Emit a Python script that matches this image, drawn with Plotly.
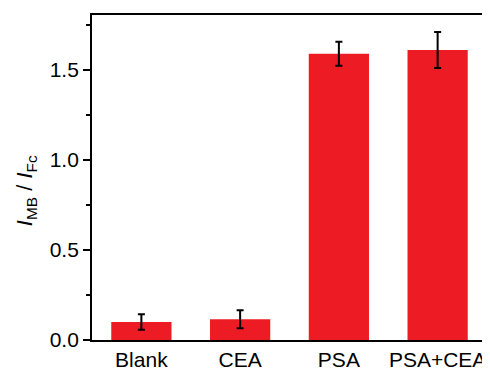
import plotly.graph_objects as go

categories = ["Blank", "CEA", "PSA", "PSA+CEA"]
values = [0.10, 0.115, 1.59, 1.61]
errors = [0.043, 0.05, 0.067, 0.10]
y_ticks = [0.0, 0.5, 1.0, 1.5]
y_tick_labels = ["0.0", "0.5", "1.0", "1.5"]
y_title = "<i>I</i><sub>MB</sub> / <i>I</i><sub>Fc</sub>"

fig = go.Figure(go.Bar(
    x=categories, y=values,
    marker=dict(color="#ED1C24", line=dict(width=0)),
    error_y=dict(type="data", array=errors, color="black", thickness=2, width=3.5),
))

# page body has an 8px default margin; compensate so the plot frame lands where it should
font_family = "Liberation Sans, Arial, sans-serif"
fig.update_layout(
    template="none",
    width=482, height=361,
    margin=dict(l=84, r=3, t=7, b=29, autoexpand=False),
    plot_bgcolor="white", paper_bgcolor="white",
    bargap=0.39,
    showlegend=False,
    font=dict(family=font_family, size=21, color="black"),
)
fig.update_xaxes(
    automargin=False,
    showline=True, linecolor="black", linewidth=1.8, mirror=True,
    ticks="", showgrid=False, range=[-0.5, 3.5],
    tickfont=dict(size=21),
)
fig.update_yaxes(
    automargin=False,
    range=[0, 1.805],
    tickvals=y_ticks, ticktext=y_tick_labels,
    showline=True, linecolor="black", linewidth=1.8, mirror=True,
    ticks="outside", ticklen=7, tickwidth=1.8, tickcolor="black",
    minor=dict(ticks="outside", ticklen=4, tickwidth=1.8, tickcolor="black", dtick=0.25, showgrid=False),
    showgrid=False, zeroline=False,
    tickfont=dict(size=21),
)
fig.add_annotation(
    text=y_title, textangle=-90, showarrow=False,
    xref="paper", yref="paper", x=-0.168, y=0.46,
    xanchor="center", yanchor="middle",
    font=dict(size=22, family=font_family, color="black"),
)

fig.write_html("out.html")
